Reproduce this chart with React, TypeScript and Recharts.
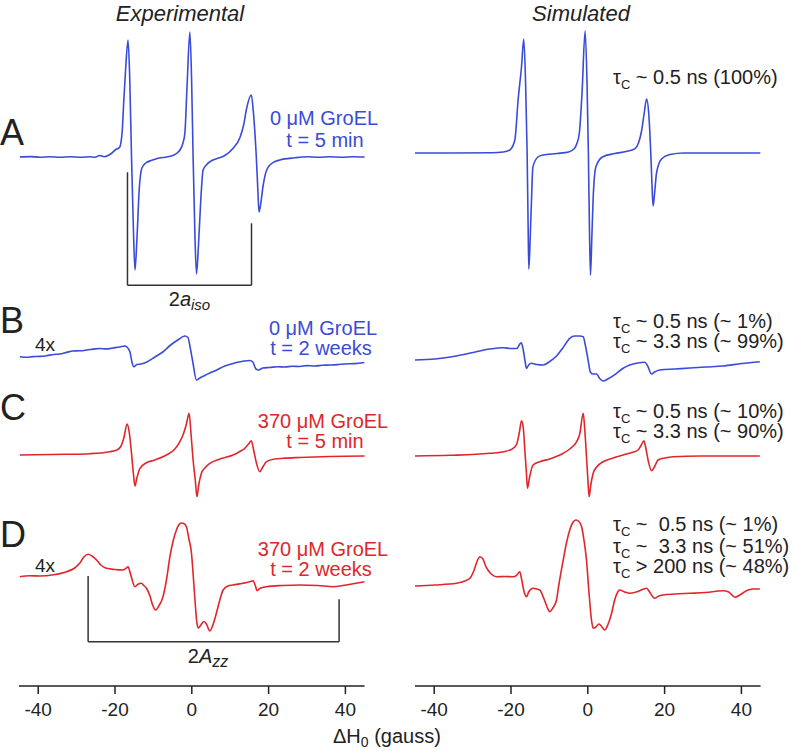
import React from "react";
import { LineChart, Line, XAxis, YAxis, ReferenceLine } from "recharts";

// ---- data: [field offset (gauss), signal amplitude (a.u.)] ----
const expA: [number, number][] = [
  [-44.8, 0], [-42, 0.4], [-39.5, -0.2], [-37, 0.3], [-34.4, -0.3], [-31.5, 0.3], [-29, -0.2], [-26.5, 0.3],
  [-25.2, -0.3], [-24, 1.5], [-22.8, 0.3], [-21.8, 1.5], [-20.8, 4], [-19.8, 7.5], [-19.2, 8.5], [-18.75, 10],
  [-18.1, 27], [-17.7, 57], [-17.2, 90], [-16.6, 117], [-16.15, 77], [-15.7, 0], [-15.2, -73], [-14.8, -113],
  [-14.3, -83], [-13.7, -33], [-13.0, -11], [-12.0, -6], [-10.4, -3.3], [-8.5, -1], [-6.5, 0], [-5, 1.5],
  [-3.8, 4], [-3.1, 7], [-2.3, 14], [-1.8, 24], [-1.2, 74], [-0.5, 125], [-0.05, 77], [0.34, 0], [0.78, -73],
  [1.22, -117], [1.74, -88], [2.34, -43], [2.94, -13], [3.9, -7.5], [5.5, -3], [7, -1], [8.6, 1.5], [10.7, 8.5],
  [12.5, 19], [13.5, 32], [14.3, 49], [15.5, 62], [16.1, 42], [16.8, 0], [17.2, -33], [17.5, -55], [17.9, -48],
  [18.6, -28], [19.5, -13], [20.8, -6.5], [22.9, -3], [26.8, -0.8], [30, 0.2], [33, -0.3], [36, 0.3], [39, -0.2],
  [42, 0.3], [45.5, 0],
];
const simA: [number, number][] = [
  [-45.5, 0], [-35, 0], [-25, 0.3], [-22, 1], [-20.3, 3], [-19, 13], [-18.15, 53], [-17.27, 86], [-16.67, 114],
  [-16.2, 70], [-15.8, 0], [-15.55, -70], [-15.36, -116], [-15.0, -85], [-14.66, -47], [-14.3, -14], [-13, -4],
  [-11.7, -2], [-8, -0.5], [-5, 1], [-3.5, 4.4], [-2.8, 10], [-2.2, 20], [-1.5, 60], [-0.7, 122], [-0.2, 70],
  [0.15, 0], [0.45, -80], [0.7, -122], [1.05, -85], [1.4, -45], [2.1, -14], [3.8, -4], [7, -0.5], [10, 1.5],
  [12.3, 4.4], [13.2, 10], [14.0, 22], [14.7, 40], [15.3, 54], [15.9, 38], [16.4, 0], [16.7, -30], [17.0, -53],
  [17.4, -40], [17.9, -20], [19.2, -6], [21.4, -1.5], [25, 0], [35, 0], [45, 0],
];
const expB: [number, number][] = [
  [-44.8, 0.3], [-43, -0.3], [-41.4, 0.4], [-39.6, 0.6], [-37.8, 1.3], [-36, 2.5], [-34.4, 3], [-32.6, 4.6],
  [-31, 6], [-29.2, 6.2], [-27.3, 7], [-25.6, 7.9], [-24, 8.5], [-22.2, 8.1], [-20.6, 9], [-18.75, 10],
  [-17.4, 11], [-16.9, 10], [-16.1, 5], [-15.6, -5], [-15.1, -9.7], [-14.3, -7.5], [-13.3, -7], [-11.7, -5],
  [-9.6, 0], [-7.55, 5], [-5.5, 12], [-3.65, 17], [-1.8, 21], [-1.0, 19.5], [-0.4, 9], [0.26, -5], [1.22, -23],
  [2.1, -21], [3.1, -19], [4.7, -16], [6.5, -13], [8.6, -9], [10.7, -6.5], [13.0, -4.5], [15.1, -3.5], [15.9, -5],
  [16.7, -12], [17.4, -13], [18.5, -11], [20.3, -10.5], [22.3, -9.7], [24.2, -10], [26.2, -9.2], [28.1, -9.5],
  [30, -8.6], [32, -9], [34, -8.3], [35.9, -8], [37.9, -7.6], [39.8, -7], [42.4, -6.6], [45, -5.5],
];
const simB: [number, number][] = [
  [-45.5, -3], [-39.8, -2], [-34.2, 1], [-29.9, 4.5], [-25.5, 8], [-22.1, 9.3], [-19.8, 8.5], [-18.5, 8.5],
  [-17.7, 13], [-17.3, 14.3], [-16.8, 7], [-16.3, -5], [-15.96, -11.3], [-15.4, -8], [-14.7, -6.3], [-13.3, -7.5],
  [-11.6, -8], [-9.9, -4.5], [-8.15, 1], [-6.5, 9], [-4.7, 18.7], [-3.4, 21], [-2.1, 21], [-1.2, 20.3],
  [-0.65, 12], [0.08, -3], [0.65, -15], [1.3, -17], [2.27, -17], [3.1, -21.5], [4.0, -24], [5.2, -22],
  [7.5, -16.3], [9.1, -11.5], [10.9, -8], [13.0, -6], [14.8, -5.3], [15.6, -9], [16.6, -17], [17.4, -15],
  [18.75, -13], [22.7, -12], [26.6, -11], [30.7, -10], [35.2, -9], [40.1, -6.5], [44.8, -4.7],
];
const expC: [number, number][] = [
  [-44.8, 0], [-32.6, 0.7], [-26.6, 1.3], [-21.35, 3.3], [-19.5, 5], [-18.5, 8.5], [-17.7, 17], [-16.85, 31],
  [-16.3, 23], [-15.7, 1.7], [-15.2, -19], [-14.8, -31], [-14.3, -23], [-13.5, -13.3], [-11.8, -7.7], [-9.6, -5],
  [-6.6, 0], [-4.4, 6], [-3.1, 13.3], [-2.1, 22], [-1.4, 31], [-0.7, 41.7], [-0.18, 20], [0.34, -5], [0.9, -25],
  [1.35, -41.7], [1.8, -30], [2.5, -18.3], [3.4, -13], [4.7, -8.3], [7.3, -4], [10.75, 0], [12.5, 3.5],
  [13.8, 6.7], [14.8, 11], [15.5, 14.3], [16.1, 5], [16.85, -8.3], [17.7, -16.7], [18.5, -12], [19.45, -6.7],
  [21.6, -4], [23.8, -3.3], [28.1, -2.5], [35.9, -1.5], [45.5, -1],
];
const simC: [number, number][] = [
  [-45.5, -1], [-35.9, -0.3], [-25.5, 1.7], [-21.6, 3.5], [-19.45, 6.7], [-18.5, 11], [-17.8, 23], [-17.27, 34.3],
  [-16.8, 27], [-16.4, 5], [-16.0, -17], [-15.7, -33.3], [-15.2, -23], [-14.25, -10], [-12.5, -6.7], [-9.9, -4],
  [-6.4, 1.7], [-4.7, 6], [-2.9, 13.3], [-2.1, 21], [-1.2, 41.7], [-0.78, 25], [-0.34, -1.7], [0, -23],
  [0.34, -41.7], [0.78, -30], [1.4, -18.3], [2.3, -12], [4.0, -6.7], [6.25, -3.5], [9.2, 0], [11.5, 2.5],
  [13.1, 5], [13.8, 9], [14.6, 14.3], [15.1, 7], [15.7, -5], [16.6, -15.7], [17.2, -13], [18.3, -5], [20.05, -3],
  [22.2, -1.7], [29.2, -1], [44.8, -1],
];
const expD: [number, number][] = [
  [-44.8, -0.7], [-42.2, 0.2], [-39.6, 0], [-36, 1.2], [-32.6, 4.3], [-30.5, 8], [-29.2, 12.7], [-28.1, 19],
  [-27.0, 21.7], [-26.0, 20], [-24.8, 16], [-23.7, 11], [-22.2, 7.7], [-20.05, 6.5], [-17.9, 6], [-17.2, 7.5],
  [-16.6, 9.3], [-15.9, 1], [-14.8, -10.7], [-14.1, -8.5], [-13.1, -7.3], [-12.5, -9.5], [-11.8, -12.3],
  [-10.9, -20], [-10.2, -29], [-9.4, -34], [-8.6, -30], [-7.5, -20.7], [-6.6, -4], [-5.7, 19.3], [-4.8, 36],
  [-4.0, 46], [-3.4, 51], [-2.7, 53], [-2.1, 52.5], [-1.4, 49.3], [-0.8, 38], [-0.08, 22.7], [0.4, -1],
  [0.9, -28], [1.3, -46], [1.65, -52], [2.2, -50], [3.1, -45.5], [3.8, -48], [4.7, -55], [5.3, -51], [6.4, -37.3],
  [7.3, -24], [8.15, -14], [9.4, -10], [10.75, -9], [13.0, -7.5], [15.1, -5.7], [15.96, -4.7], [16.5, -9],
  [17.0, -14.7], [17.7, -12.5], [19.45, -10.7], [23.7, -9.5], [28.1, -9], [32.8, -9.5], [36.8, -10.7],
  [39.3, -9.5], [42.4, -7.5], [45.05, -5.7],
];
const simD: [number, number][] = [
  [-45.5, -10], [-39.8, -9], [-34.2, -7.3], [-32.0, -5], [-30.7, -2.3], [-29.7, 5], [-28.9, 14], [-28.1, 19.3],
  [-27.3, 17], [-26.6, 10], [-26.0, 6], [-25.0, 1.5], [-23.8, -0.7], [-21.6, -0.5], [-19.45, -0.7], [-18.5, 1],
  [-17.7, 4.3], [-17.2, -4], [-16.5, -17], [-15.96, -20.7], [-15.4, -16], [-14.25, -12.3], [-13.3, -13],
  [-12.5, -14], [-11.5, -22], [-10.7, -30], [-9.9, -35.7], [-9.1, -32], [-8.15, -24], [-7.55, -9], [-6.4, 16],
  [-5.5, 34], [-4.7, 46], [-3.9, 53.5], [-3.1, 56], [-2.3, 54.5], [-1.6, 49.3], [-1.0, 36], [-0.34, 16],
  [0.26, -14], [0.96, -44], [1.4, -52.3], [2.1, -51], [2.9, -48], [3.6, -50.5], [4.4, -54], [5.2, -49],
  [6.2, -37.3], [7.0, -24], [7.8, -16], [8.3, -14], [9.6, -16], [10.9, -17.3], [13.0, -15.5], [15.3, -12.3],
  [16.1, -16], [17.4, -22.3], [18.5, -20], [19.6, -19], [22.7, -18], [26.6, -17.3], [30.7, -16.5], [35.2, -14.7],
  [36.7, -16], [38.3, -21.3], [39.6, -19], [41.3, -14.7], [43.0, -13], [44.8, -13],
];

const xTicks = [-40, -20, 0, 20, 40];
const xDomain: [number, number] = [-45, 45];

// bracket annotations (gauss, amplitude)
const isoBracket = { xL: -16.75, xR: 15.55, topL: -15.3, topR: -66.3, bottom: -128.3 };
const azzBracket = { xL: -27.0, xR: 38.36, topL: 0, topR: -23.3, bottom: -65.7 };

const BLUE = "#3a4bd8";
const RED = "#e0262b";
const INK = "#222";
const FONT = "'Liberation Sans', Arial, Helvetica, sans-serif";

const toRows = (d: [number, number][]) => d.map(([x, y]) => ({ x, y }));

type PanelProps = {
  data: [number, number][];
  color: string;
  left: number;
  top: number;
  lo: number;
  hi: number;
  showAxis?: boolean;
  children?: React.ReactNode;
};

const PLOT_W = 345.6;
const AXIS_H = 65;

function Panel({ data, color, left, top, lo, hi, showAxis, children }: PanelProps) {
  const h = hi - lo + (showAxis ? AXIS_H : 0);
  return (
    <div style={{ position: "absolute", left, top }}>
      <LineChart width={PLOT_W} height={h} data={toRows(data)} margin={{ top: 0, right: 0, bottom: 0, left: 0 }}>
        <XAxis
          type="number"
          dataKey="x"
          domain={xDomain}
          allowDataOverflow
          hide={!showAxis}
          ticks={xTicks}
          height={AXIS_H}
          tickSize={8}
          tickMargin={9}
          interval={0}
          axisLine={{ stroke: INK, strokeWidth: 1.5 }}
          tickLine={{ stroke: INK, strokeWidth: 1.5 }}
          tick={{ fontSize: 19, fill: INK, fontFamily: FONT }}
        />
        <YAxis type="number" domain={[lo, hi]} allowDataOverflow hide />
        <Line type="monotone" dataKey="y" stroke={color} strokeWidth={1.6} dot={false} isAnimationActive={false} />
        {children}
      </LineChart>
    </div>
  );
}

const bracketLines = (b: typeof isoBracket) => [
  <ReferenceLine key="l" segment={[{ x: b.xL, y: b.topL }, { x: b.xL, y: b.bottom }]} stroke="#333" strokeWidth={1.5} />,
  <ReferenceLine key="r" segment={[{ x: b.xR, y: b.topR }, { x: b.xR, y: b.bottom }]} stroke="#333" strokeWidth={1.5} />,
  <ReferenceLine key="b" segment={[{ x: b.xL, y: b.bottom }, { x: b.xR, y: b.bottom }]} stroke="#333" strokeWidth={1.5} />,
];

function Tau({ x, y, rest }: { x: number; y: number; rest: string }) {
  return (
    <text x={x} y={y} fontSize={20} fill={INK} style={{ whiteSpace: "pre" }}>
      τ
      <tspan fontSize={13} dy={5}>C</tspan>
      <tspan dy={-5}>{rest}</tspan>
    </text>
  );
}

export default function App() {
  const LX = 19.2;
  const RX = 415.2;
  return (
    <div style={{ position: "absolute", left: 0, top: 0, width: 793, height: 751, background: "#fff", fontFamily: FONT }}>
      <Panel data={expA} color={BLUE} left={LX} top={28.7} lo={-132} hi={128}>
        {bracketLines(isoBracket)}
      </Panel>
      <Panel data={simA} color={BLUE} left={RX} top={28.7} lo={-126} hi={124} />
      <Panel data={expB} color={BLUE} left={LX} top={327} lo={-30} hi={30} />
      <Panel data={simB} color={BLUE} left={RX} top={327} lo={-30} hi={30} />
      <Panel data={expC} color={RED} left={LX} top={410} lo={-45} hi={45} />
      <Panel data={simC} color={RED} left={RX} top={410} lo={-45} hi={45} />
      <Panel data={expD} color={RED} left={LX} top={516} lo={-110} hi={60} showAxis>
        {bracketLines(azzBracket)}
      </Panel>
      <Panel data={simD} color={RED} left={RX} top={516} lo={-110} hi={60} showAxis />

      <svg width={793} height={751} style={{ position: "absolute", left: 0, top: 0, pointerEvents: "none" }} fontFamily={FONT}>
        <text x={180} y={21} fontSize={22} fontStyle="italic" textAnchor="middle" fill={INK}>Experimental</text>
        <text x={581} y={21} fontSize={22} fontStyle="italic" textAnchor="middle" fill={INK}>Simulated</text>

        <text x={0} y={145} fontSize={36} fill={INK}>A</text>
        <text x={0} y={333} fontSize={36} fill={INK}>B</text>
        <text x={0} y={420} fontSize={36} fill={INK}>C</text>
        <text x={0} y={547} fontSize={36} fill={INK}>D</text>

        <text x={324} y={125} fontSize={20} fill={BLUE} textAnchor="middle">0 μM GroEL</text>
        <text x={325} y={147} fontSize={20} fill={BLUE} textAnchor="middle">t = 5 min</text>
        <text x={323} y={335} fontSize={20} fill={BLUE} textAnchor="middle">0 μM GroEL</text>
        <text x={321} y={355} fontSize={20} fill={BLUE} textAnchor="middle">t = 2 weeks</text>
        <text x={323} y={428} fontSize={20} fill={RED} textAnchor="middle">370 μM GroEL</text>
        <text x={325} y={448} fontSize={20} fill={RED} textAnchor="middle">t = 5 min</text>
        <text x={323} y={556} fontSize={20} fill={RED} textAnchor="middle">370 μM GroEL</text>
        <text x={321} y={576} fontSize={20} fill={RED} textAnchor="middle">t = 2 weeks</text>

        <text x={35} y={351} fontSize={19} fill={INK}>4x</text>
        <text x={35} y={572} fontSize={19} fill={INK}>4x</text>

        <text x={189.5} y={306} fontSize={20} fill={INK} textAnchor="middle">
          2<tspan fontStyle="italic">a</tspan>
          <tspan fontStyle="italic" fontSize={15} dy={4}>iso</tspan>
        </text>
        <text x={208} y={663} fontSize={20} fill={INK} textAnchor="middle">
          2<tspan fontStyle="italic">A</tspan>
          <tspan fontStyle="italic" fontSize={16} dy={4}>zz</tspan>
        </text>

        <Tau x={613} y={84} rest=" ~ 0.5 ns (100%)" />
        <Tau x={613} y={328} rest=" ~ 0.5 ns (~ 1%)" />
        <Tau x={613} y={348} rest=" ~ 3.3 ns (~ 99%)" />
        <Tau x={613} y={418} rest=" ~ 0.5 ns (~ 10%)" />
        <Tau x={613} y={438} rest=" ~ 3.3 ns (~ 90%)" />
        <Tau x={613} y={531} rest=" ~  0.5 ns (~ 1%)" />
        <Tau x={613} y={553} rest=" ~  3.3 ns (~ 51%)" />
        <Tau x={613} y={573} rest=" > 200 ns (~ 48%)" />

        <text x={333} y={743} fontSize={20} fill={INK}>
          ΔH<tspan fontSize={14} dy={4}>0</tspan>
          <tspan dy={-4}> (gauss)</tspan>
        </text>
      </svg>
    </div>
  );
}
